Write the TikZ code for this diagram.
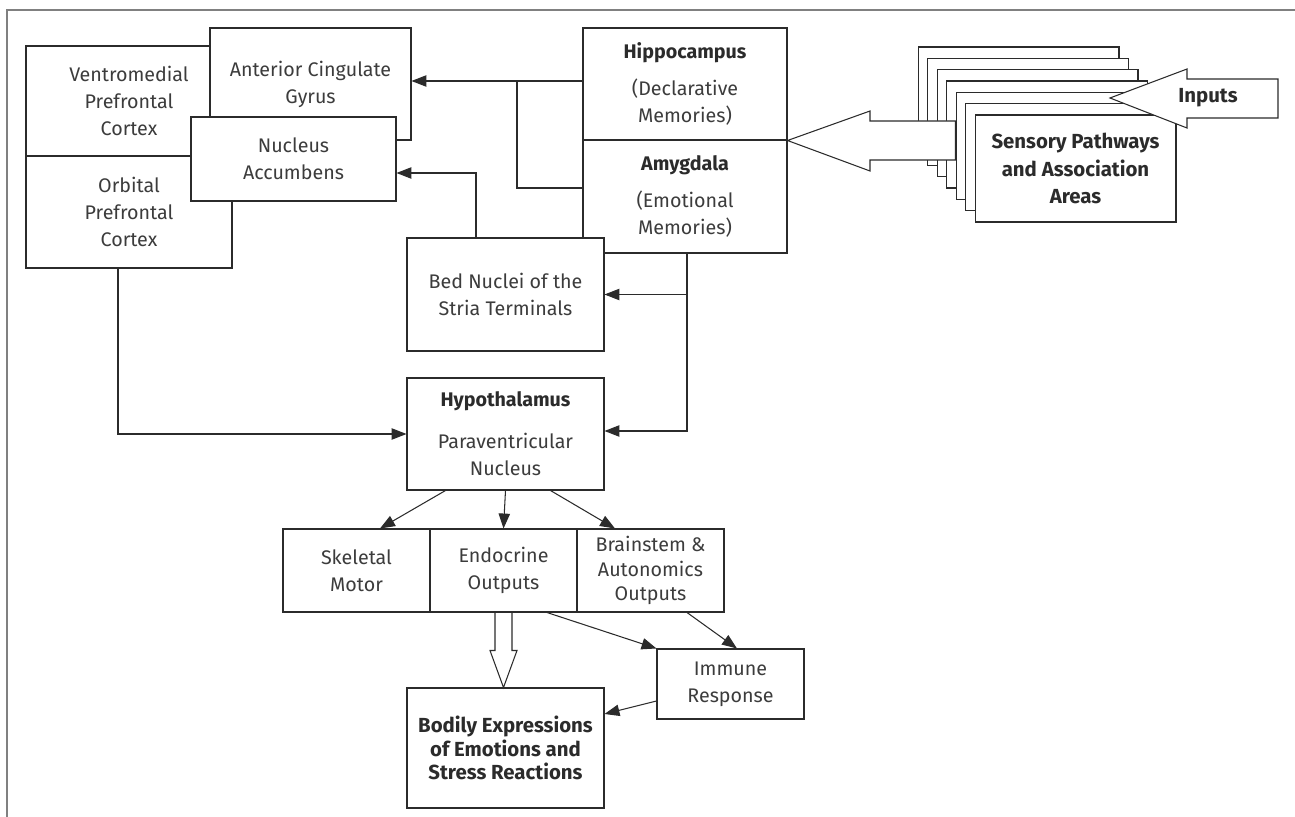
\documentclass[tikz,border=0pt]{standalone}
\usepackage{fontspec}
\setmainfont{Fira Sans}
\usetikzlibrary{positioning,
        arrows.meta,
        calc}
\definecolor{ink}{HTML}{2B2B2B}
\definecolor{soft}{HTML}{3C3C3C}
\definecolor{framegray}{HTML}{808080}

\begin{document}
\begin{tikzpicture}[x=0.02cm,y=-0.02cm,
        box/.style={draw=ink,fill=white,line width=0.6pt,align=center,inner sep=0pt,
                text=soft,font=\fontsize{11.2}{15.4}\selectfont},
        boldbox/.style={box,text=ink,font=\bfseries\fontsize{11.6}{15.6}\selectfont},
        arr/.style={draw=ink,line width=0.6pt,-{Triangle[length=8.5pt,width=6.5pt]}},
        line/.style={draw=ink,line width=0.6pt},
        hollow/.style={draw=ink,fill=white,line width=0.6pt,line join=miter}]
        \useasboundingbox (0,0) rectangle (1295,817);
        \draw [framegray,line width=1.2pt] (7,817) -- (7,10) -- (1295,10);

        % prefrontal side
        \node [box,minimum width=4.12cm,minimum height=2.2cm] (vmpfc) at (129,101) {Ventromedial\\Prefrontal\\Cortex};
        \node [box,minimum width=4.12cm,minimum height=2.24cm] (ofc) at (129,212) {Orbital\\Prefrontal\\Cortex};
        \node [box,minimum width=4.02cm,minimum height=2.24cm] (acg) at (310.5,84) {Anterior Cingulate\\Gyrus};
        \node [box,minimum width=4.1cm,minimum height=1.68cm] (nacc) at (293.5,159) {Nucleus\\Accumbens};

        % memory systems
        \node [box,minimum width=4.08cm,minimum height=2.24cm] (hippo) at (685,84) {\textcolor{ink}{\textbf{Hippocampus}}\\[5.5pt](Declarative\\Memories)};
        \node [box,minimum width=4.08cm,minimum height=2.26cm] (amyg) at (685,196.5) {\textcolor{ink}{\textbf{Amygdala}}\\[5.5pt](Emotional\\Memories)};
        \node [box,minimum width=3.94cm,minimum height=2.26cm] (bnst) at (505.5,294.5) {Bed Nuclei of the\\Stria Terminals};
        \node [box,minimum width=3.94cm,minimum height=2.24cm] (hypo) at (505.5,434) {\textcolor{ink}{\textbf{Hypothalamus}}\\[8.5pt]Paraventricular\\Nucleus};

        % outputs
        \node [box,minimum width=2.94cm,minimum height=1.66cm] (skel) at (356.5,570.5) {Skeletal\\Motor};
        \node [box,minimum width=2.94cm,minimum height=1.66cm] (endo) at (503.5,570.5) {Endocrine\\Outputs};
        \node [box,minimum width=2.94cm,minimum height=1.66cm,font=\fontsize{11.2}{14}\selectfont] (brain) at (650.5,570.5) {Brainstem \&\\Autonomics\\Outputs};
        \node [box,minimum width=2.94cm,minimum height=1.4cm] (immune) at (730.5,684) {Immune\\Response};
        \node [boldbox,minimum width=3.94cm,minimum height=2.4cm,font=\bfseries\fontsize{11.6}{13.2}\selectfont] (bodily) at (505.5,748) {Bodily Expressions\\of Emotions and\\Stress Reactions};

        % sensory stack
        \foreach \i in {0,...,5}
            \node [box,minimum width=4.02cm,minimum height=2.14cm] (s\i) at ({1075.5-(6-\i)*9.5},{168.5-(6-\i)*11.33}) {};
        \node [boldbox,minimum width=4.02cm,minimum height=2.14cm] (sens) at (1075.5,168.5) {Sensory Pathways\\and Association\\Areas};

        \draw [hollow] (hippo.south east) -- (870,111) -- (870,121) -- (s4.west |- 0,121) -- (s4.west |- 0,160) -- (870,160) -- (870,171) -- cycle;
        \draw [hollow] (1110,98) -- (1187,69) -- (1187,79) -- (1278,79) -- (1278,118) -- (1187,118) -- (1187,128) -- cycle;
        \node [text=ink,font=\bfseries\fontsize{11.6}{13}\selectfont] (inputs) at (1208,98) {Inputs};

        % connectors
        \coordinate (jn) at (517,81);
        \coordinate (adown) at ($(amyg.south)+(2,0)$);
        \draw [arr] ($(hippo.west)+(0,-3)$) -- ($(acg.east)+(0,-3)$);
        \draw [line] ($(amyg.west)+(0,-8.5)$) -| (jn);
        \draw [arr] ($(bnst.north)+(-29.5,0)$) |- ($(nacc.east)+(0,14)$);
        \draw [arr] (adown) |- ($(hypo.east)+(0,-3)$);
        \draw [arr] (adown |- bnst.east) -- (bnst.east);
        \draw [arr] ($(ofc.south)+(-11,0)$) |- (hypo.west);
        \draw [arr] ($(hypo.south)+(-60,0)$) -- ($(skel.north)+(23.5,0)$);
        \draw [arr] (hypo.south) -- (endo.north);
        \draw [arr] ($(hypo.south)+(45,0)$) -- ($(brain.north)+(-35.5,0)$);
        \draw [arr] ($(endo.south)+(43.5,0)$) -- (immune.north west);
        \draw [arr] ($(brain.south)+(36.5,0)$) -- ($(immune.north)+(6.5,0)$);
        \draw [arr] ($(immune.west)+(0,17)$) -- ($(bodily.east)+(0,-34)$);
        \draw [line,line join=miter] ($(endo.south)+(-8.5,0)$) -- ++(0,38) -- ++(-5,0) -- (endo.south |- bodily.north) -- ($(endo.south)+(13.5,38)$) -- ++(-5,0) -- ++(0,-38);
\end{tikzpicture}
\end{document}
